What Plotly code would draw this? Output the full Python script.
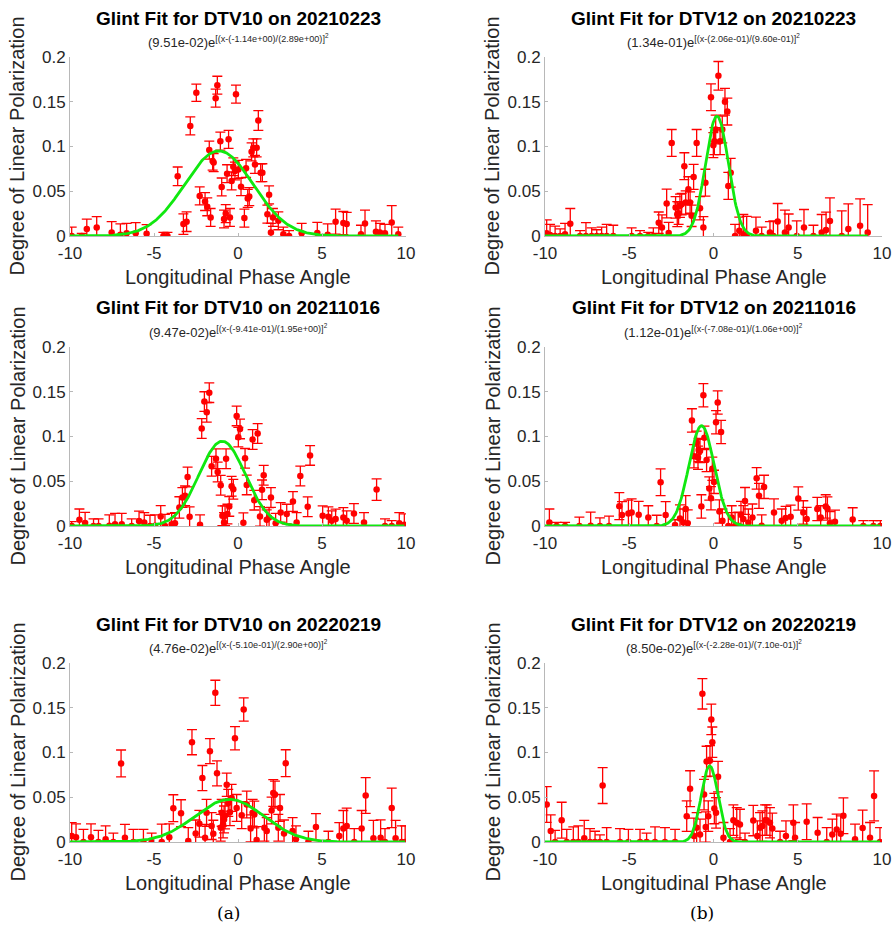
import numpy as np
import plotly.graph_objects as go

# ---------------- data ----------------
titles = ["Glint Fit for DTV10 on 20210223", "Glint Fit for DTV12 on 20210223",
          "Glint Fit for DTV10 on 20211016", "Glint Fit for DTV12 on 20211016",
          "Glint Fit for DTV10 on 20220219", "Glint Fit for DTV12 on 20220219"]
x_title = "Longitudinal Phase Angle"
y_title = "Degree of Linear Polarization"
panel_labels = ["(a)", "(b)"]

# Gaussian fit parameters (amplitude, centre, width) per panel
fit_amp = [9.51e-02, 1.34e-01, 9.47e-02, 1.12e-01, 4.76e-02, 8.50e-02]
fit_mu = [-1.14e+00, 2.06e-01, -9.41e-01, -7.08e-01, -5.10e-01, -2.28e-01]
fit_sig = [2.89e+00, 9.60e-01, 1.95e+00, 1.06e+00, 2.90e+00, 7.10e-01]

x_tickvals = [-10, -5, 0, 5, 10]
x_ticktext = ["-10", "-5", "0", "5", "10"]
y_tickvals = [0, 0.05, 0.1, 0.15, 0.2]
y_ticktext = ["0", "0.05", "0.1", "0.15", "0.2"]

p1_x = [-9.9, -9.3, -9.0, -8.41, -7.52, -7.0, -6.63, -6.09, -5.44, -4.44, -4.2, -3.59, -3.25, -3.06, -2.84,
        -2.48, -2.28, -1.96, -1.83, -1.71, -1.63, -1.51, -1.45, -1.33, -1.23, -1.05, -0.97, -0.83, -0.73,
        -0.65, -0.56, -0.48, -0.38, -0.28, -0.18, -0.12, 0.02, 0.18, 0.38, 0.48, 0.58, 0.67, 0.81, 0.91,
        1.01, 1.11, 1.21, 1.35, 1.45, 1.75, 1.85, 1.96, 2.08, 2.40, 2.70, 3.04, 3.79, 4.72, 5.34, 5.81,
        6.27, 6.47, 7.32, 7.56, 8.21, 8.45, 8.75, 9.15, 9.54]
p1_y = [0.0, 0.0, 0.0078, 0.0096, 0.004, 0.0015, 0.003, 0.003, 0.0026, 0.0, 0.0, 0.0667, 0.0133, 0.016, 0.123,
        0.160, 0.0448, 0.0385, 0.0326, 0.096, 0.0207, 0.0837, 0.082, 0.154, 0.1685, 0.106, 0.0548, 0.019, 0.025,
        0.0696, 0.108, 0.0207, 0.0615, 0.0774, 0.0726, 0.1585, 0.0744, 0.055, 0.020, 0.0756, 0.042, 0.044, 0.094,
        0.0985, 0.080, 0.0985, 0.129, 0.0707, 0.0707, 0.0244, 0.046, 0.004, 0.0207, 0.017, 0.002, 0.0, 0.003,
        0.0033, 0.0015, 0.016, 0.0144, 0.0133, 0.002, 0.014, 0.0048, 0.004, 0.003, 0.015, 0.002]
p1_err = [0.010, 0.003, 0.011, 0.012, 0.012, 0.012, 0.011, 0.012, 0.010, 0.004, 0.004, 0.0104, 0.0115, 0.011,
          0.010, 0.0096, 0.010, 0.010, 0.010, 0.010, 0.010, 0.010, 0.010, 0.010, 0.010, 0.010, 0.010, 0.010,
          0.010, 0.010, 0.010, 0.010, 0.010, 0.010, 0.010, 0.010, 0.010, 0.010, 0.010, 0.010, 0.010, 0.010,
          0.010, 0.010, 0.010, 0.010, 0.011, 0.010, 0.010, 0.010, 0.010, 0.010, 0.010, 0.010, 0.008, 0.006,
          0.011, 0.012, 0.012, 0.014, 0.013, 0.013, 0.010, 0.015, 0.012, 0.010, 0.010, 0.019, 0.008]

p2_x = [-9.9, -9.7, -9.4, -9.1, -8.81, -8.5, -7.92, -7.57, -7.23, -6.93, -6.64, -6.34, -5.95, -4.86, -4.36,
        -3.87, -3.57, -3.25, -3.06, -2.78, -2.66, -2.48, -2.25, -2.15, -2.07, -1.99, -1.89, -1.73, -1.65,
        -1.49, -1.39, -1.30, -1.18, -1.0, -0.8, -0.6, -0.48, -0.15, -0.01, 0.05, 0.13, 0.29, 0.39, 0.52,
        0.68, 0.82, 0.88, 1.02, 1.28, 1.53, 1.77, 1.97, 2.52, 2.86, 3.35, 3.55, 3.81, 4.24, 4.46, 4.94,
        5.37, 5.93, 6.42, 6.68, 6.91, 7.61, 8.0, 8.7, 9.15]
p2_y = [0.003, 0.001, 0.0, 0.0, 0.002, 0.0137, 0.0, 0.0, 0.0, 0.0, 0.0, 0.0, 0.0, 0.0, 0.0,
        0.0, 0.0, 0.0148, 0.0096, 0.0363, 0.0033, 0.104, 0.0319, 0.0244, 0.025, 0.0337, 0.0356, 0.078, 0.0374,
        0.0522, 0.0374, 0.0226, 0.066, 0.104, 0.031, 0.0096, 0.0596, 0.155, 0.1015, 0.106, 0.119, 0.179, 0.106,
        0.119, 0.150, 0.139, 0.056, 0.0707, 0.0, 0.006, 0.002, 0.0, 0.006, 0.0, 0.004, 0.0, 0.0163, 0.004,
        0.0096, 0.0, 0.0096, 0.0, 0.004, 0.0067, 0.0167, 0.0, 0.0078, 0.0115, 0.004]
p2_err = [0.015, 0.012, 0.011, 0.008, 0.012, 0.017, 0.006, 0.015, 0.009, 0.007, 0.010, 0.013, 0.012, 0.009,
          0.006, 0.004, 0.009, 0.012, 0.014, 0.016, 0.012, 0.015, 0.012, 0.014, 0.012, 0.013, 0.012, 0.015,
          0.013, 0.014, 0.012, 0.012, 0.014, 0.015, 0.013, 0.012, 0.015, 0.015, 0.014, 0.015, 0.016, 0.016,
          0.015, 0.015, 0.015, 0.015, 0.015, 0.016, 0.013, 0.015, 0.022, 0.022, 0.015, 0.010, 0.012, 0.017,
          0.020, 0.025, 0.015, 0.017, 0.020, 0.012, 0.020, 0.020, 0.026, 0.028, 0.028, 0.030, 0.031]

p3_x = [-9.9, -9.44, -9.1, -8.6, -8.3, -7.66, -7.32, -6.92, -6.33, -5.89, -5.58, -5.24, -4.94, -4.60, -4.35,
        -3.95, -3.75, -3.49, -3.31, -3.15, -3.0, -2.88, -2.26, -2.16, -2.0, -1.86, -1.71, -1.57, -1.31, -1.21,
        -1.03, -0.93, -0.83, -0.77, -0.71, -0.63, -0.52, -0.38, -0.28, -0.08, 0.02, 0.12, 0.32, 0.42, 0.52,
        0.87, 0.97, 1.17, 1.31, 1.43, 1.53, 1.71, 1.85, 1.96, 2.24, 2.54, 2.90, 3.27, 3.49, 3.71, 4.15, 4.29,
        5.04, 5.38, 5.58, 5.81, 6.27, 6.47, 6.90, 7.50, 8.25, 8.75, 9.15, 9.6, 9.9]
p3_y = [0.0, 0.007, 0.0033, 0.0, 0.0, 0.0004, 0.002, 0.002, 0.0, 0.0056, 0.004, 0.0, 0.0004, 0.0107, 0.0,
        0.002, 0.003, 0.0207, 0.0319, 0.0337, 0.0548, 0.0104, 0.0015, 0.109, 0.139, 0.127, 0.149, 0.0667,
        0.0752, 0.0604, 0.0456, 0.0115, 0.004, 0.0115, 0.0752, 0.0133, 0.0219, 0.0444, 0.0411, 0.123, 0.0993,
        0.1085, 0.0037, 0.0756, 0.0459, 0.0967, 0.0289, 0.1033, 0.0107, 0.0404, 0.0567, 0.007, 0.0096, 0.0319,
        0.003, 0.0152, 0.0133, 0.0274, 0.004, 0.0559, 0.0215, 0.0789, 0.0115, 0.0104, 0.006, 0.0078, 0.0096,
        0.006, 0.014, 0.004, 0.0407, 0.0, 0.0, 0.003, 0.0015]
p3_err = [0.005, 0.012, 0.012, 0.008, 0.008, 0.012, 0.012, 0.012, 0.008, 0.011, 0.011, 0.012, 0.012, 0.012,
          0.013, 0.012, 0.012, 0.012, 0.011, 0.011, 0.011, 0.011, 0.011, 0.011, 0.011, 0.011, 0.011, 0.011,
          0.011, 0.011, 0.011, 0.011, 0.011, 0.011, 0.011, 0.011, 0.011, 0.011, 0.011, 0.011, 0.011, 0.011,
          0.011, 0.011, 0.011, 0.011, 0.011, 0.011, 0.011, 0.011, 0.011, 0.011, 0.011, 0.011, 0.011, 0.011,
          0.011, 0.011, 0.011, 0.011, 0.011, 0.011, 0.011, 0.011, 0.011, 0.011, 0.011, 0.011, 0.011, 0.011,
          0.012, 0.008, 0.006, 0.012, 0.012]

p4_x = [-9.74, -9.31, -8.81, -7.96, -7.29, -6.74, -6.2, -5.59, -5.43, -5.05, -4.86, -4.44, -3.87, -3.37,
        -3.14, -2.84, -2.28, -1.99, -1.79, -1.65, -1.53, -1.28, -1.16, -1.0, -0.92, -0.88, -0.8, -0.72, -0.6,
        -0.54, -0.41, -0.25, -0.15, -0.07, 0.03, 0.15, 0.25, 0.35, 0.45, 0.53, 0.88, 1.08, 1.28, 1.47, 1.63,
        1.77, 1.87, 2.07, 2.31, 2.56, 2.70, 2.86, 3.0, 3.59, 4.05, 4.28, 4.58, 5.03, 5.33, 5.53, 6.16, 6.36,
        6.66, 6.76, 6.91, 7.21, 8.26, 8.89, 9.49, 9.9]
p4_y = [0.004, 0.0, 0.0, 0.0, 0.0004, 0.0, 0.0, 0.0222, 0.0122, 0.014, 0.0152, 0.0126, 0.0096, 0.0, 0.0489,
        0.0122, 0.001, 0.0085, 0.004, 0.0189, 0.003, 0.118, 0.078, 0.093, 0.0763, 0.0848, 0.0837, 0.0219,
        0.146, 0.0985, 0.0737, 0.0419, 0.0311, 0.064, 0.0493, 0.116, 0.138, 0.0163, 0.105, 0.006, 0.0, 0.0096,
        0.0, 0.0004, 0.0126, 0.0078, 0.028, 0.004, 0.0096, 0.0533, 0.0337, 0.0004, 0.0437, 0.0152, 0.006,
        0.0089, 0.0104, 0.0307, 0.0152, 0.0078, 0.0189, 0.0096, 0.0219, 0.0196, 0.003, 0.0048, 0.0074, 0.0,
        0.0, 0.0]
p4_err = [0.015, 0.004, 0.004, 0.010, 0.015, 0.009, 0.011, 0.015, 0.015, 0.015, 0.015, 0.015, 0.013, 0.012,
          0.015, 0.015, 0.006, 0.015, 0.015, 0.015, 0.015, 0.013, 0.013, 0.013, 0.013, 0.013, 0.013, 0.013,
          0.013, 0.013, 0.013, 0.013, 0.013, 0.013, 0.013, 0.013, 0.013, 0.013, 0.013, 0.013, 0.015, 0.013,
          0.015, 0.015, 0.015, 0.015, 0.015, 0.015, 0.015, 0.012, 0.014, 0.012, 0.013, 0.015, 0.013, 0.013,
          0.013, 0.013, 0.013, 0.013, 0.013, 0.013, 0.013, 0.013, 0.013, 0.013, 0.013, 0.006, 0.006, 0.006]

p5_x = [-9.9, -9.64, -9.2, -8.75, -8.31, -7.88, -7.42, -6.96, -6.73, -6.23, -5.63, -5.14, -4.54, -4.09,
        -3.85, -3.39, -2.96, -2.74, -2.52, -2.30, -2.12, -1.96, -1.87, -1.67, -1.57, -1.47, -1.35, -1.25,
        -1.03, -0.97, -0.89, -0.83, -0.77, -0.67, -0.58, -0.48, -0.38, -0.18, -0.08, 0.22, 0.34, 0.52, 0.75,
        0.87, 0.97, 1.11, 1.57, 1.71, 2.0, 2.10, 2.20, 2.40, 2.50, 2.74, 2.84, 3.25, 3.45, 4.19, 4.64, 5.38,
        6.03, 6.27, 6.47, 6.92, 7.36, 7.60, 8.06, 8.49, 8.75, 9.15, 9.38, 9.74, 9.95]
p5_y = [0.0067, 0.0052, 0.0, 0.0052, 0.0, 0.003, 0.0, 0.0878, 0.0048, 0.0, 0.0, 0.0, 0.0, 0.0052, 0.0378,
        0.0322, 0.001, 0.1115, 0.0096, 0.0204, 0.0715, 0.0048, 0.0326, 0.1015, 0.0178, 0.0093, 0.1667, 0.0767,
        0.0159, 0.0326, 0.0196, 0.0252, 0.0296, 0.064, 0.0437, 0.0333, 0.0493, 0.1159, 0.0381, 0.030, 0.148,
        0.0419, 0.0152, 0.0326, 0.0307, 0.0022, 0.0159, 0.0122, 0.0352, 0.0548, 0.053, 0.0159, 0.0381, 0.0096,
        0.0881, 0.0122, 0.003, 0.0, 0.0167, 0.0, 0.0067, 0.0152, 0.0178, 0.0, 0.0152, 0.0519, 0.0041, 0.0048,
        0.0, 0.0381, 0.0041, 0.0, 0.0]
p5_err = [0.015, 0.015, 0.014, 0.015, 0.013, 0.015, 0.010, 0.015, 0.015, 0.014, 0.014, 0.010, 0.020, 0.015,
          0.015, 0.015, 0.015, 0.014, 0.015, 0.015, 0.014, 0.015, 0.015, 0.014, 0.015, 0.015, 0.014, 0.014,
          0.015, 0.015, 0.015, 0.015, 0.015, 0.013, 0.015, 0.015, 0.015, 0.013, 0.015, 0.015, 0.013, 0.015,
          0.015, 0.015, 0.015, 0.015, 0.015, 0.015, 0.015, 0.015, 0.015, 0.015, 0.015, 0.015, 0.015, 0.015,
          0.015, 0.012, 0.015, 0.012, 0.015, 0.020, 0.020, 0.015, 0.020, 0.020, 0.020, 0.020, 0.015, 0.022,
          0.020, 0.018, 0.018]

p6_x = [-9.9, -9.66, -9.4, -9.01, -8.71, -8.32, -8.02, -7.67, -7.33, -7.03, -6.74, -6.58, -6.34, -5.55,
        -5.05, -4.36, -3.97, -3.47, -2.88, -2.28, -1.59, -1.39, -1.16, -1.0, -0.8, -0.66, -0.56, -0.46, -0.41,
        -0.31, -0.21, -0.13, -0.07, 0.05, 0.15, 0.27, 0.59, 0.98, 1.18, 1.38, 1.57, 1.87, 2.36, 2.60, 2.76,
        2.90, 3.06, 3.16, 3.35, 3.49, 3.95, 4.30, 4.74, 4.84, 5.53, 6.18, 6.72, 7.05, 7.31, 7.55, 7.71, 8.40,
        8.85, 9.29, 9.53, 9.88]
p6_y = [0.0419, 0.0122, 0.0, 0.0244, 0.0, 0.0, 0.0, 0.0041, 0.0, 0.0, 0.0, 0.063, 0.0, 0.0, 0.0, 0.0, 0.0,
        0.0, 0.0, 0.0, 0.0289, 0.0596, 0.0067, 0.0159, 0.0085, 0.1656, 0.053, 0.0167, 0.090, 0.0289, 0.0907,
        0.137, 0.1115, 0.0374, 0.0326, 0.073, 0.0048, 0.0, 0.0244, 0.0215, 0.0196, 0.0, 0.024, 0.0067, 0.0159,
        0.0178, 0.0244, 0.0244, 0.0215, 0.0152, 0.0, 0.0067, 0.0215, 0.0048, 0.0226, 0.0104, 0.0, 0.0085,
        0.0141, 0.0093, 0.0293, 0.003, 0.0156, 0.0048, 0.0515, 0.0]
p6_err = [0.020, 0.018, 0.013, 0.020, 0.014, 0.017, 0.018, 0.020, 0.015, 0.012, 0.008, 0.020, 0.016, 0.015,
          0.014, 0.014, 0.010, 0.017, 0.016, 0.014, 0.017, 0.020, 0.020, 0.017, 0.017, 0.017, 0.017, 0.017,
          0.017, 0.017, 0.017, 0.017, 0.017, 0.017, 0.017, 0.017, 0.017, 0.015, 0.017, 0.017, 0.017, 0.010,
          0.017, 0.017, 0.017, 0.017, 0.017, 0.017, 0.017, 0.017, 0.012, 0.017, 0.020, 0.017, 0.020, 0.017,
          0.016, 0.017, 0.017, 0.020, 0.020, 0.017, 0.020, 0.017, 0.028, 0.016]

panel_x = [p1_x, p2_x, p3_x, p4_x, p5_x, p6_x]
panel_y = [p1_y, p2_y, p3_y, p4_y, p5_y, p6_y]
panel_err = [p1_err, p2_err, p3_err, p4_err, p5_err, p6_err]

# ---------------- layout geometry ----------------
W, H = 895, 926
col_px = [(70, 406), (545, 882)]
row_px = [(57, 236), (347, 526), (663, 842)]

FONT = "Liberation Sans, Arial, Helvetica, sans-serif"
TXT = "#262626"
RED = "#ff0000"
GREEN = "#10e810"
AXC = "#b8b8b8"

fig = go.Figure()
annotations = []


def px_x(p):
    return p / W


def px_y(p):
    return 1 - p / H


for i in range(6):
    r, c = divmod(i, 2)
    ax = "" if i == 0 else str(i + 1)
    xref, yref = "x" + ax, "y" + ax
    x0, x1 = col_px[c]
    yt, yb = row_px[r]

    fig.add_trace(go.Scatter(
        x=panel_x[i], y=panel_y[i], mode="markers", xaxis=xref, yaxis=yref,
        marker=dict(color=RED, size=6.5),
        error_y=dict(type="data", array=panel_err[i], visible=True, color=RED,
                     thickness=1.3, width=5),
        showlegend=False, hoverinfo="x+y"))

    xs = np.linspace(x_tickvals[0], max(panel_x[i]), 400)
    ys = fit_amp[i] * np.exp(-((xs - fit_mu[i]) / fit_sig[i]) ** 2)
    fig.add_trace(go.Scatter(x=xs, y=ys, mode="lines", xaxis=xref, yaxis=yref,
                             line=dict(color=GREEN, width=2.8), showlegend=False))

    common = dict(showgrid=False, zeroline=False, showline=True, linecolor=AXC,
                  linewidth=1, ticks="inside", ticklen=3, tickcolor=AXC, automargin=False,
                  tickfont=dict(family=FONT, size=17, color=TXT), mirror=False)
    fig.layout["xaxis" + ax] = dict(
        domain=[px_x(x0), px_x(x1)], range=[-10, 10], anchor=yref, ticklabelstandoff=2,
        tickvals=x_tickvals, ticktext=x_ticktext, **common)
    fig.layout["yaxis" + ax] = dict(
        domain=[px_y(yb), px_y(yt)], range=[0, 0.2], anchor=xref,
        tickvals=y_tickvals, ticktext=y_ticktext, **common)

    cx = (x0 + x1) / 2
    # axis titles
    annotations.append(dict(text=x_title, x=px_x(cx), y=px_y(yb + 41), xref="paper", yref="paper",
                            showarrow=False, xanchor="center", yanchor="middle",
                            font=dict(family=FONT, size=20, color=TXT)))
    annotations.append(dict(text=y_title, x=px_x(x0 - 53), y=px_y((yt + yb) / 2), xref="paper",
                            yref="paper", showarrow=False, xanchor="center", yanchor="middle",
                            textangle=-90, font=dict(family=FONT, size=20, color=TXT)))
    # panel title and fit formula
    annotations.append(dict(text="<b>" + titles[i] + "</b>", x=px_x(cx), y=px_y(yt - 39),
                            xref="paper", yref="paper", showarrow=False, xanchor="center",
                            yanchor="middle", font=dict(family=FONT, size=19, color="#000000")))
    formula = "(%.2e)e<sup>[(x-(%.2e)/(%.2e)]<sup>2</sup></sup>" % (fit_amp[i], fit_mu[i], fit_sig[i])
    annotations.append(dict(text=formula, x=px_x(cx), y=px_y(yt - 16),
                            xref="paper", yref="paper", showarrow=False, xanchor="center",
                            yanchor="middle", font=dict(family=FONT, size=13, color=TXT)))

for lbl, lx in zip(panel_labels, [228, 702]):
    annotations.append(dict(text=lbl, x=px_x(lx), y=px_y(913), xref="paper", yref="paper",
                            showarrow=False, xanchor="center", yanchor="middle",
                            font=dict(family="DejaVu Serif, serif", size=17, color="#000")))

fig.update_layout(width=W, height=H, margin=dict(l=0, r=0, t=0, b=0, autoexpand=False),
                  paper_bgcolor="white", plot_bgcolor="white", annotations=annotations,
                  font=dict(family=FONT, color=TXT))

fig.write_html("out.html")
